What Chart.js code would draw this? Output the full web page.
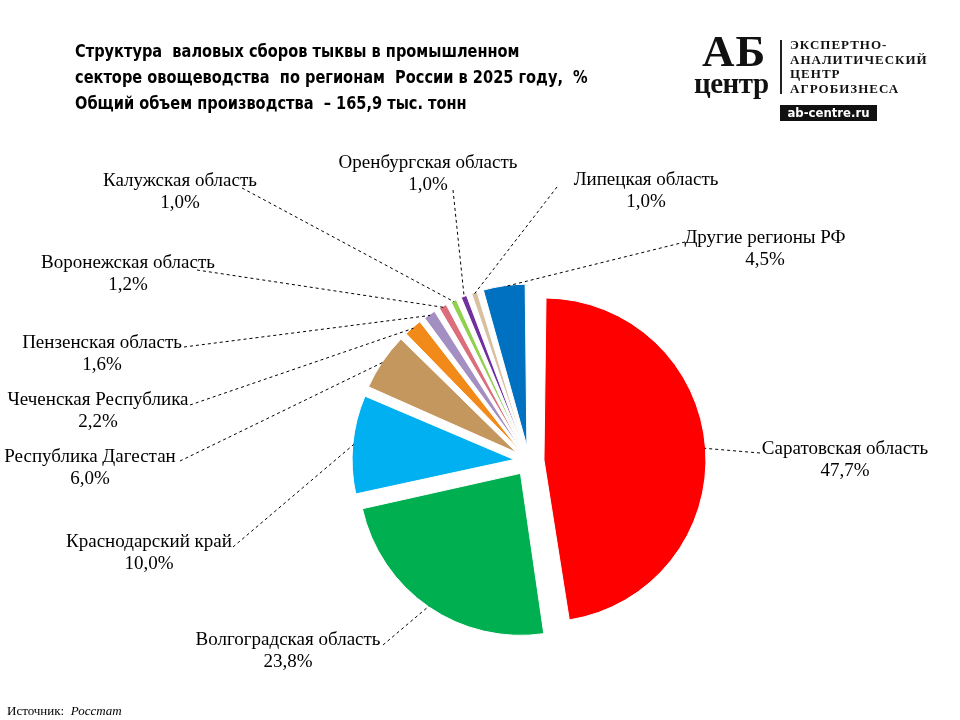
<!DOCTYPE html>
<html>
<head>
<meta charset="utf-8">
<script src="https://cdn.jsdelivr.net/npm/chart.js@4.4.1/dist/chart.umd.min.js"></script>
<style>
  body { margin: 0; background: #fff; }
  #wrap { position: relative; width: 960px; height: 720px; overflow: hidden; }
  #pie { position: absolute; left: 0; top: 0; }
  .title { position: absolute; left: 75px; top: 38px; font: bold 18px "DejaVu Sans Condensed", "Liberation Sans Narrow", sans-serif; line-height: 26px; color: #000; white-space: nowrap; transform: scaleX(0.9); transform-origin: left top; }
  .logo-ab { position: absolute; left: 702px; top: 25px; font: bold 45px "Liberation Serif", serif; color: #111; letter-spacing: 1px; }
  .logo-c { position: absolute; left: 694px; top: 67px; font: bold 29px "Liberation Serif", serif; color: #111; letter-spacing: -0.5px; }
  .logo-bar { position: absolute; left: 780px; top: 40px; width: 2px; height: 54px; background: #222; }
  .logo-txt { position: absolute; left: 790px; top: 38px; font: bold 13px "Liberation Serif", serif; line-height: 14.5px; letter-spacing: 1px; color: #111; }
  .logo-box { position: absolute; left: 780px; top: 105px; width: 97px; height: 16px; background: #111; color: #fff; font: bold 13px "DejaVu Sans Condensed", sans-serif; line-height: 16px; text-align: center; }
  .src { position: absolute; left: 7px; top: 703px; font: 13px "Liberation Serif", serif; color: #000; }
</style>
</head>
<body>
<div id="wrap">
  <canvas id="pie" width="960" height="720"></canvas>
  <div class="title">Структура&nbsp; валовых сборов тыквы в промышленном<br>секторе овощеводства&nbsp; по регионам&nbsp; России в 2025 году,&nbsp; %<br>Общий объем производства&nbsp; – 165,9 тыс. тонн</div>
  <div class="logo-ab">АБ</div>
  <div class="logo-c">центр</div>
  <div class="logo-bar"></div>
  <div class="logo-txt">ЭКСПЕРТНО-<br>АНАЛИТИЧЕСКИЙ<br>ЦЕНТР<br>АГРОБИЗНЕСА</div>
  <div class="logo-box">ab-centre.ru</div>
  <div class="src">Источник:&nbsp; <i>Росстат</i></div>
</div>
<script>
// data ..................
const regions = ["Саратовская область", "Волгоградская область", "Краснодарский край",
  "Республика Дагестан", "Чеченская Республика", "Пензенская область", "Воронежская область",
  "Калужская область", "Оренбургская область", "Липецкая область", "Другие регионы РФ"];
const shares = [47.7, 23.8, 10.0, 6.0, 2.2, 1.6, 1.2, 1.0, 1.0, 1.0, 4.5];
const shareLabels = ["47,7%", "23,8%", "10,0%", "6,0%", "2,2%", "1,6%", "1,2%", "1,0%", "1,0%", "1,0%", "4,5%"];

var sliceColors = ["#ff0000", "#00b050", "#00b0f0", "#c4975f", "#f28a1a", "#a48fc2",
  "#dc6e7b", "#92d050", "#7030a0", "#d9c0a0", "#0070c0"];

// every slice is pulled out ~15px (chart.js moves a slice by offset/4)
var explode = 15;

// label text position: [center x, first line y, leader start x, leader start y]
var labelPos = [
  [845, 449, 760, 453],
  [288, 640, 383, 645],
  [149, 542, 233, 547],
  [90, 457, 180, 461],
  [98, 400, 190, 405],
  [102, 343, 184, 347],
  [128, 263, 197, 270],
  [180, 181, 242, 188],
  [428, 163, 453, 190],
  [646, 180, 557, 187],
  [765, 238, 685, 242]
];

// chart.js also grows the radius of an offset slice, take that back so all slices keep one radius
const sameRadius = {
  id: "sameRadius",
  beforeDatasetsDraw(chart) {
    const meta = chart.getDatasetMeta(0);
    const base = meta.controller.outerRadius;
    meta.data.forEach(arc => {
      const circ = arc.endAngle - arc.startAngle;
      const fix = 1 - Math.sin(Math.min(Math.PI, circ));
      arc.outerRadius = base - explode * fix;
    });
  }
};

const leaderLabels = {
  id: "leaderLabels",
  afterDatasetsDraw(chart) {
    const ctx = chart.ctx;
    const arcs = chart.getDatasetMeta(0).data;
    const base = chart.getDatasetMeta(0).controller.outerRadius;
    ctx.save();
    arcs.forEach((arc, i) => {
      const mid = (arc.startAngle + arc.endAngle) / 2;
      const r = base + explode - 1;
      const ex = arc.x + Math.cos(mid) * r;
      const ey = arc.y + Math.sin(mid) * r;
      const lp = labelPos[i];
      ctx.beginPath();
      ctx.setLineDash([3, 3]);
      ctx.strokeStyle = "#000";
      ctx.lineWidth = 1;
      ctx.moveTo(lp[2], lp[3]);
      ctx.lineTo(ex, ey);
      ctx.stroke();
      ctx.setLineDash([]);
      ctx.fillStyle = "#000";
      ctx.font = "19px 'Liberation Serif', serif";
      ctx.textAlign = "center";
      ctx.textBaseline = "middle";
      ctx.fillText(regions[i], lp[0], lp[1]);
      ctx.fillText(shareLabels[i], lp[0], lp[1] + 22);
    });
    ctx.restore();
  }
};

new Chart("pie", {
  type: "pie",
  data: {
    labels: regions,
    datasets: [{
      data: shares,
      backgroundColor: sliceColors,
      borderColor: "#fff",
      borderWidth: 1,
      offset: explode * 4
    }]
  },
  options: {
    responsive: false,
    animation: false,
    radius: 162,
    layout: { padding: { left: 349, right: 251, top: 281, bottom: 79 } },
    plugins: { legend: { display: false }, tooltip: { enabled: false } }
  },
  plugins: [sameRadius, leaderLabels]
});
</script>
</body>
</html>
